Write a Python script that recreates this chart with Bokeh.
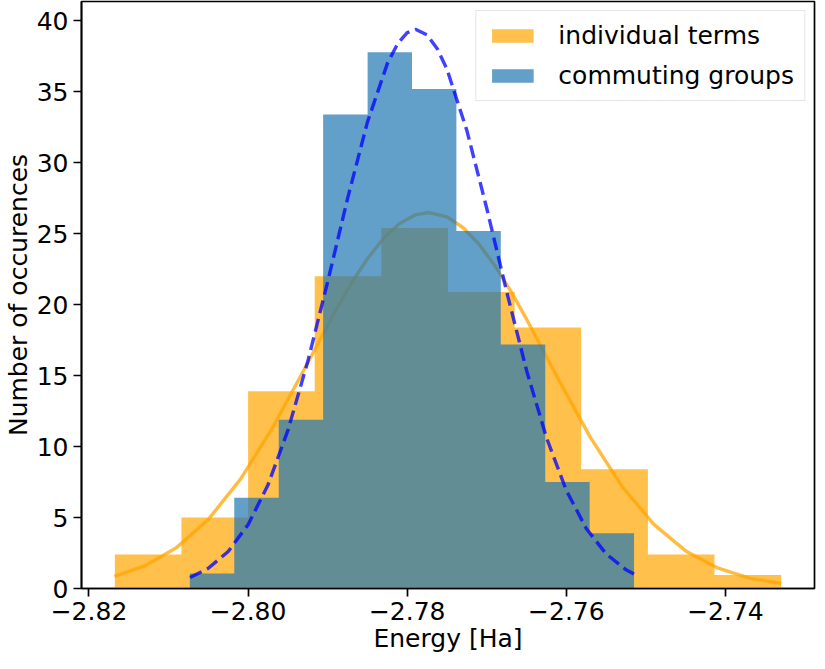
from bokeh.plotting import figure
from bokeh.models import Range1d, FixedTicker, Legend, LegendItem
from bokeh.embed import file_html
from bokeh.resources import INLINE

# ---- data ----
indiv_edges = [-2.81675, -2.80838, -2.80000, -2.79163, -2.78325, -2.77488,
               -2.76650, -2.75813, -2.74975, -2.74138, -2.73300]
indiv_heights = [2.4, 5.0, 13.9, 22.0, 25.4, 20.9, 18.4, 8.4, 2.4, 0.95]

group_edges = [-2.80732, -2.80174, -2.79615, -2.79057, -2.78498, -2.77940,
               -2.77382, -2.76824, -2.76265, -2.75707, -2.75149]
group_heights = [1.05, 6.4, 11.9, 33.4, 37.8, 35.2, 25.2, 17.2, 7.5, 3.9]

indiv_curve_x = [-2.8168, -2.8130, -2.8090, -2.8050, -2.8010, -2.7970, -2.7930,
                 -2.7890, -2.7870, -2.7850, -2.7830, -2.7810, -2.7790, -2.7773,
                 -2.7750, -2.7730, -2.7710, -2.7690, -2.7670, -2.7650, -2.7610,
                 -2.7570, -2.7530, -2.7490, -2.7450, -2.7410, -2.7370, -2.7330]
indiv_curve_y = [0.85, 1.59, 2.88, 4.87, 7.67, 11.25, 15.38, 19.59, 21.53, 23.24,
                 24.67, 25.71, 26.33, 26.50, 26.19, 25.44, 24.28, 22.77, 20.97,
                 18.98, 14.75, 10.67, 7.19, 4.52, 2.65, 1.45, 0.73, 0.35]

group_curve_x = [-2.8073, -2.8050, -2.8025, -2.8000, -2.7975, -2.7950, -2.7925,
                 -2.7900, -2.7875, -2.7850, -2.7825, -2.7812, -2.7800, -2.7789,
                 -2.7775, -2.7762, -2.7750, -2.7725, -2.7700, -2.7675, -2.7650,
                 -2.7625, -2.7600, -2.7575, -2.7550, -2.7525, -2.7515]
group_curve_y = [0.77, 1.43, 2.61, 4.50, 7.30, 11.14, 16.00, 21.61, 27.48, 32.87,
                 36.99, 38.40, 39.17, 39.40, 39.02, 38.02, 36.59, 32.27, 26.78,
                 20.92, 15.37, 10.63, 6.91, 4.23, 2.44, 1.32, 1.02]

series_labels = ["individual terms", "commuting groups"]
x_ticks = [-2.82, -2.80, -2.78, -2.76, -2.74]
x_tick_labels = ["\u22122.82", "\u22122.80", "\u22122.78", "\u22122.76", "\u22122.74"]
y_ticks = [0, 5, 10, 15, 20, 25, 30, 35, 40]

FONT = "DejaVu Sans"
FS = "25px"


def step_outline(edges, heights):
    """Outline of a histogram (one polygon, so no seams between bins)."""
    xs = [edges[0]]
    ys = [0]
    for i, h in enumerate(heights):
        xs += [edges[i], edges[i + 1]]
        ys += [h, h]
    xs.append(edges[-1])
    ys.append(0)
    return xs, ys


p = figure(width=816, height=655, output_backend="svg", toolbar_location=None,
           x_range=Range1d(-2.82094, -2.72881), y_range=Range1d(0, 41.37),
           min_border_left=72, min_border_right=2, min_border_top=1,
           min_border_bottom=60)
p.background_fill_color = "white"
p.border_fill_color = "white"
p.outline_line_color = "black"
p.outline_line_width = 1.7
p.xgrid.visible = False
p.ygrid.visible = False

ix, iy = step_outline(indiv_edges, indiv_heights)
gx, gy = step_outline(group_edges, group_heights)

q1 = p.patch(ix, iy, fill_color="orange", fill_alpha=0.7, line_color=None)
p.line(indiv_curve_x, indiv_curve_y, line_color="orange", line_alpha=0.75, line_width=3.4,
       line_join="round")
q2 = p.patch(gx, gy, fill_color="#1f77b4", fill_alpha=0.7, line_color=None)
p.line(group_curve_x, group_curve_y, line_color="blue", line_alpha=0.75, line_width=3.4,
       line_dash="13 6", line_join="round")

for ax in (p.xaxis[0], p.yaxis[0]):
    ax.axis_line_color = "black"
    ax.axis_line_width = 1.7
    ax.major_tick_line_width = 1.7
    ax.major_tick_out = 8
    ax.major_tick_in = 0
    ax.minor_tick_out = 0
    ax.minor_tick_in = 0
    ax.major_label_text_font = FONT
    ax.major_label_text_font_size = FS
    ax.major_label_text_color = "black"
    ax.axis_label_text_font = FONT
    ax.axis_label_text_font_size = FS
    ax.axis_label_text_font_style = "normal"
    ax.axis_label_text_color = "black"
    ax.axis_label_standoff = 1
    ax.major_label_standoff = 5

p.xaxis[0].ticker = FixedTicker(ticks=x_ticks)
p.xaxis[0].major_label_overrides = dict(zip(x_ticks, x_tick_labels))
p.yaxis[0].ticker = FixedTicker(ticks=y_ticks)
p.xaxis[0].axis_label = "Energy [Ha]"
p.yaxis[0].axis_label = "Number of occurences"

legend = Legend(items=[LegendItem(label=series_labels[0], renderers=[q1]),
                       LegendItem(label=series_labels[1], renderers=[q2])],
                location="top_right")
legend.label_text_font = FONT
legend.label_text_font_size = FS
legend.label_text_color = "black"
legend.glyph_width = 52
legend.glyph_height = 17
legend.label_standoff = 20
legend.label_height = 24
legend.spacing = 11
legend.padding = 10
legend.margin = 9
legend.border_line_color = "#cccccc"
legend.border_line_width = 1.5
legend.background_fill_alpha = 0.8
p.add_layout(legend)

open("out.html", "w").write(file_html(p, INLINE))
